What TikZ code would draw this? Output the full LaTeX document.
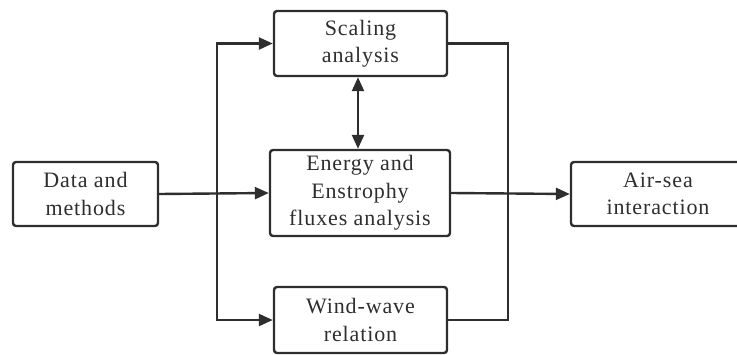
\documentclass[tikz,border=0pt]{standalone}
\usepackage{fontspec}
\setmainfont[LetterSpace=4]{Liberation Serif}
\usetikzlibrary{arrows.meta}
\definecolor{ink}{HTML}{2E2E2E}
\begin{document}
\begin{tikzpicture}[x=1pt,y=-1pt,
  box/.style={draw=ink,line width=2.4pt,rounded corners=3pt,align=center,
    text=ink,font=\fontsize{22}{27.5}\selectfont,inner sep=0pt},
  arr/.style={draw=ink,line width=2.4pt,-{Triangle[length=14pt,width=12pt]}},
  link/.style={draw=ink,line width=2.4pt}]
\useasboundingbox (0,0) rectangle (737,354);
\clip (0,0) rectangle (737,354);
\node[box,minimum width=173pt,minimum height=65pt] (scal) at (360.5,43.5) {Scaling\\analysis};
\node[box,minimum width=180pt,minimum height=86pt] (energy) at (360,193) {Energy and\\Enstrophy\\fluxes analysis};
\node[box,minimum width=145pt,minimum height=64pt] (data) at (85.5,194) {Data and\\methods};
\node[box,minimum width=173pt,minimum height=66pt] (wind) at (360.5,320) {Wind-wave\\relation};
\node[box,minimum width=174pt,minimum height=64pt] (air) at (658,194) {Air-sea\\interaction};
\coordinate (jl) at (217,194);
\coordinate (jr) at (508,194);
\draw[arr] (data.east) -- (energy.west);
\draw[arr] (jl) |- (scal.west);
\draw[arr] (jl) |- (wind.west);
\draw[link] (scal.east) -| (jr) |- (wind.east);
\draw[arr] (energy.east) -- (air.west);
\draw[draw=ink,line width=2.4pt,{Triangle[length=14pt,width=12pt]}-{Triangle[length=14pt,width=12pt]}] (scal.south -| 358,0) -- (energy.north -| 358,0);
\end{tikzpicture}
\end{document}
